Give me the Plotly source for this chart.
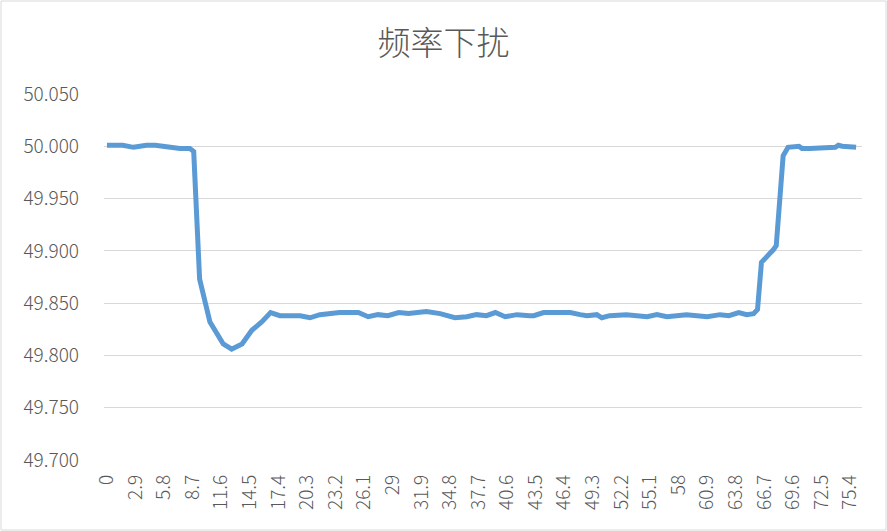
import plotly.graph_objects as go

title_text = "频率下扰"

time_s = [0, 1.6, 2.7, 4.0, 4.9, 6.1, 7.4, 8.4, 8.8, 9.4, 10.45, 11.8, 12.65, 13.7,
          14.7, 15.7, 16.6, 17.55, 19.6, 20.6, 21.6, 23.6, 25.5, 26.5, 27.5, 28.5,
          29.6, 30.6, 32.4, 33.8, 35.3, 36.5, 37.5, 38.5, 39.4, 40.4, 41.6, 42.9,
          43.3, 44.3, 47.0, 48.0, 48.7, 49.7, 50.2, 51.0, 52.7, 54.8, 55.8, 56.8,
          58.8, 60.9, 62.2, 63.1, 64.1, 64.9, 65.6, 66.0, 66.4, 67.6, 67.9, 68.6,
          69.1, 70.2, 70.5, 71.3, 72.7, 73.9, 74.2, 74.6, 76.0]

frequency = [50.001, 50.001, 49.999, 50.001, 50.001, 49.999, 49.998, 49.998, 49.995,
             49.873, 49.832, 49.811, 49.806, 49.811, 49.824, 49.832, 49.841, 49.838,
             49.838, 49.836, 49.839, 49.841, 49.841, 49.837, 49.839, 49.838, 49.841,
             49.840, 49.842, 49.840, 49.836, 49.837, 49.839, 49.838, 49.841, 49.837,
             49.839, 49.838, 49.838, 49.841, 49.841, 49.839, 49.838, 49.839, 49.836,
             49.838, 49.839, 49.837, 49.839, 49.837, 49.839, 49.837, 49.839, 49.838,
             49.841, 49.839, 49.840, 49.844, 49.889, 49.901, 49.905, 49.991, 49.999,
             50.000, 49.998, 49.998, 49.999, 49.999, 50.001, 50.000, 49.999]

x_tick_vals = [0, 2.9, 5.8, 8.7, 11.6, 14.5, 17.4, 20.3, 23.2, 26.1, 29, 31.9, 34.8,
               37.7, 40.6, 43.5, 46.4, 49.3, 52.2, 55.1, 58, 60.9, 63.8, 66.7, 69.6,
               72.5, 75.4]
x_tick_text = ["0", "2.9", "5.8", "8.7", "11.6", "14.5", "17.4", "20.3", "23.2", "26.1",
               "29", "31.9", "34.8", "37.7", "40.6", "43.5", "46.4", "49.3", "52.2",
               "55.1", "58", "60.9", "63.8", "66.7", "69.6", "72.5", "75.4"]

y_tick_vals = [49.70, 49.75, 49.80, 49.85, 49.90, 49.95, 50.00, 50.05]
y_tick_text = ["49.700", "49.750", "49.800", "49.850", "49.900", "49.950", "50.000", "50.050"]

W, H = 887, 531
ML, MR, MT, MB = 104, 25, 94, 71

font_family = "Noto Sans CJK SC, Noto Sans, sans-serif"
text_color = "#595959"

fig = go.Figure()
fig.add_trace(go.Scatter(
    x=time_s, y=frequency, mode="lines",
    line=dict(color="#5B9BD5", width=5),
    hoverinfo="x+y", showlegend=False,
))

pw = W - ML - MR
ph = H - MT - MB
fig.add_shape(type="rect", xref="paper", yref="paper",
              x0=(1 - ML) / pw, x1=(W - 1 - ML) / pw,
              y0=-(H - 1 - MT - ph) / ph, y1=1 + (MT - 1) / ph,
              line=dict(color="#D9D9D9", width=1), fillcolor="rgba(0,0,0,0)", layer="below")

fig.update_layout(
    width=W, height=H,
    margin=dict(l=ML, r=MR, t=MT, b=MB, pad=0, autoexpand=False),
    paper_bgcolor="white", plot_bgcolor="white",
    font=dict(family=font_family, color=text_color),
    title=dict(text=title_text, x=0.5, xref="container", xanchor="center",
               y=1 - 43 / H, yref="container", yanchor="middle",
               font=dict(size=33, color=text_color, family=font_family, weight=300),
               automargin=False),
    xaxis=dict(range=[-0.3, 76.6], tickmode="array", tickvals=x_tick_vals,
               ticktext=x_tick_text, tickangle=-90, showgrid=False, zeroline=False,
               showline=False, ticks="", ticklabelstandoff=10, automargin=False,
               tickfont=dict(size=19, color=text_color, family=font_family, weight=300)),
    yaxis=dict(range=[49.70, 50.05], tickmode="array", tickvals=y_tick_vals,
               ticktext=y_tick_text, showgrid=True, gridcolor="#D9D9D9", gridwidth=1.3,
               zeroline=False, showline=False, ticks="", ticklabelstandoff=24,
               automargin=False,
               tickfont=dict(size=19, color=text_color, family=font_family, weight=300)),
)

fig.write_html("out.html", config={"displayModeBar": False},
               post_script="document.body.style.margin='0px';")
